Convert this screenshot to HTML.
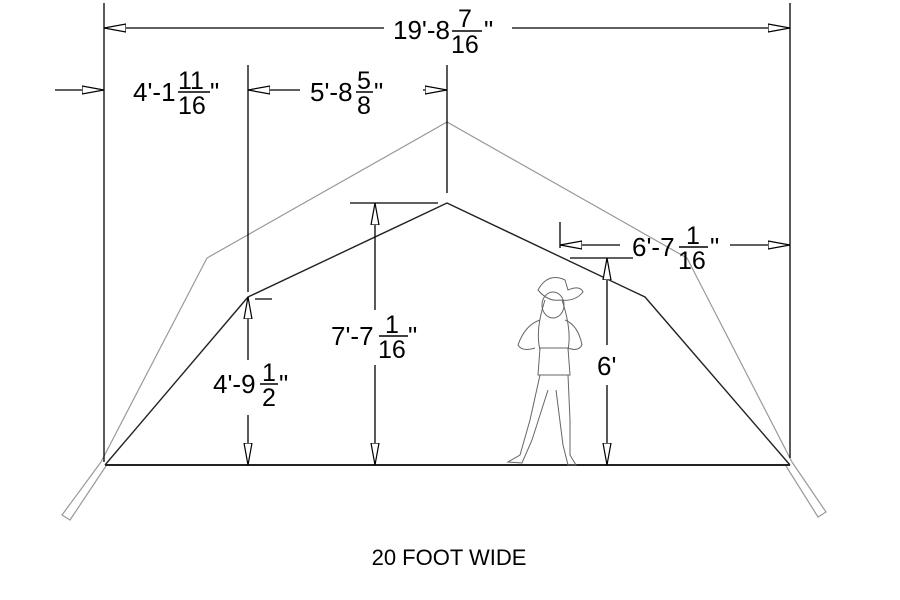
<!DOCTYPE html>
<html><head><meta charset="utf-8"><style>html,body{margin:0;padding:0;background:#fff}svg{display:block}</style></head>
<body>
<svg width="900" height="600" viewBox="0 0 900 600" xmlns="http://www.w3.org/2000/svg" font-family="Liberation Sans, sans-serif">
<defs>
<marker id="a" viewBox="0 0 22 10" refX="22" refY="5" markerWidth="22" markerHeight="10" markerUnits="userSpaceOnUse" orient="auto"><path d="M0,1 L22,5 L0,9 Z" fill="#fff" stroke="#000" stroke-width="1.2"/></marker>
</defs>
<g fill="none" stroke="#999" stroke-width="1.2">
<polyline points="101,462 207,258 447,122 687,258 792,462"/>
<polyline points="101,462 62,515 70,520 106,466"/>
<polyline points="792,462 826,512 818,517 786,466"/>
</g>
<g fill="none" stroke="#222" stroke-width="1.4">
<polyline points="105,465 248,297 447,203 645,297 790,465"/>
<line x1="105" y1="465" x2="790" y2="465" stroke-width="2"/>
</g>
<g stroke="#000" stroke-width="1.3" fill="none">
<line x1="104" y1="3" x2="104" y2="462"/>
<line x1="790" y1="3" x2="790" y2="458"/>
<line x1="248" y1="65" x2="248" y2="292"/>
<line x1="447" y1="65" x2="447" y2="193"/>
<line x1="350" y1="203" x2="438" y2="203"/>
<line x1="570" y1="258" x2="633" y2="258"/>
<line x1="560" y1="222" x2="560" y2="248"/>
<line x1="255" y1="299" x2="272" y2="299"/>
<line x1="384" y1="28" x2="104" y2="28" marker-end="url(#a)"/>
<line x1="512" y1="28" x2="790" y2="28" marker-end="url(#a)"/>
<line x1="55" y1="90" x2="104" y2="90" marker-end="url(#a)"/>
<line x1="300" y1="90" x2="248" y2="90" marker-end="url(#a)"/>
<line x1="423" y1="90" x2="447" y2="90" marker-end="url(#a)"/>
<line x1="375" y1="310" x2="375" y2="203" marker-end="url(#a)"/>
<line x1="375" y1="365" x2="375" y2="465" marker-end="url(#a)"/>
<line x1="248" y1="360" x2="248" y2="297" marker-end="url(#a)"/>
<line x1="248" y1="415" x2="248" y2="465" marker-end="url(#a)"/>
<line x1="607" y1="345" x2="607" y2="258" marker-end="url(#a)"/>
<line x1="607" y1="385" x2="607" y2="465" marker-end="url(#a)"/>
<line x1="620" y1="245" x2="560" y2="245" marker-end="url(#a)"/>
<line x1="730" y1="245" x2="790" y2="245" marker-end="url(#a)"/>
</g>
<g font-size="26" fill="#000">
<text x="393" y="39">19'-8</text><text x="458" y="27" font-size="25">7</text><line x1="452" y1="31" x2="482" y2="31" stroke="#000" stroke-width="1.5"/><text x="451" y="53" font-size="25">16</text><text x="484" y="39">"</text>
<text x="133" y="101">4'-1</text><text x="178" y="89" font-size="25">11</text><line x1="178" y1="92" x2="210" y2="92" stroke="#000" stroke-width="1.5"/><text x="178" y="114" font-size="25">16</text><text x="210" y="101">"</text>
<text x="310" y="101">5'-8</text><text x="357" y="89" font-size="25">5</text><line x1="356" y1="92" x2="373" y2="92" stroke="#000" stroke-width="1.5"/><text x="357" y="114" font-size="25">8</text><text x="374" y="101">"</text>
<text x="331" y="345">7'-7</text><text x="385" y="333" font-size="25">1</text><line x1="379" y1="336" x2="408" y2="336" stroke="#000" stroke-width="1.5"/><text x="378" y="358" font-size="25">16</text><text x="408" y="345">"</text>
<text x="213" y="393">4'-9</text><text x="262" y="381" font-size="25">1</text><line x1="260" y1="384" x2="278" y2="384" stroke="#000" stroke-width="1.5"/><text x="262" y="406" font-size="25">2</text><text x="279" y="393">"</text>
<text x="632" y="256">6'-7</text><text x="686" y="244" font-size="25">1</text><line x1="679" y1="247" x2="708" y2="247" stroke="#000" stroke-width="1.5"/><text x="678" y="269" font-size="25">16</text><text x="710" y="256">"</text>
<text x="597" y="375">6'</text>
</g>
<text x="449" y="565" font-size="22" text-anchor="middle" font-family="Liberation Sans, sans-serif">20 FOOT WIDE</text>
<g fill="none" stroke="#666" stroke-width="1">
<path d="M538,290 Q548,272 565,280 L568,290 Q580,285 583,292 Q575,302 560,300 Q548,302 538,290 Z"/>
<ellipse cx="553" cy="305" rx="11" ry="13"/>
<path d="M545,300 Q535,330 540,350 M562,300 Q572,330 568,350"/>
<path d="M540,320 Q525,325 518,345 Q522,352 535,348 M565,320 Q578,325 582,345 Q578,352 568,348"/>
<path d="M540,348 L568,348 L570,375 L538,375 Z"/>
<path d="M540,375 L530,420 L520,455 L508,462 L522,463 L532,440 L548,390"/>
<path d="M568,375 L570,420 L570,455 L576,465 L568,465 L563,445 L556,390"/>
</g>
</svg>
</body></html>
